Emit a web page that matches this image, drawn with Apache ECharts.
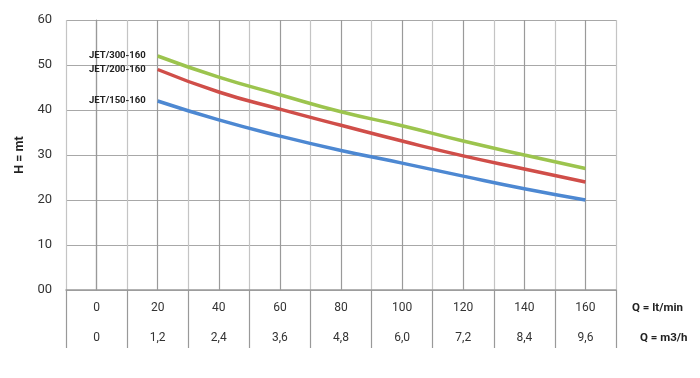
<!DOCTYPE html>
<html>
<head>
<meta charset="utf-8">
<script src="https://cdn.jsdelivr.net/npm/echarts@6/dist/echarts.min.js"></script>
<style>html,body{margin:0;padding:0;background:#fff}#c{width:700px;height:378px}</style>
</head>
<body>
<div id="c"></div>
<script>
const flowLpmLabels = ['0','20','40','60','80','100','120','140','160'];
const flowM3hLabels = ['0','1,2','2,4','3,6','4,8','6,0','7,2','8,4','9,6'];
const curveFlow = [20, 40, 60, 80, 100, 120, 140, 160];
const seriesNames = ['JET/300-160', 'JET/200-160', 'JET/150-160'];
const jet300 = [52, 47.3, 43.4, 39.6, 36.5, 33.1, 30.0, 27.0];
const jet200 = [49, 44.0, 40.2, 36.6, 33.1, 29.8, 26.9, 24.0];
const jet150 = [42, 37.8, 34.2, 31.0, 28.2, 25.3, 22.5, 20.0];
const colors = ['#9cc44e', '#d04e49', '#4d88d2'];

const FONT = '"Roboto", "Liberation Sans", sans-serif';

function mk(name, vals, color) {
  return {
    name: name,
    type: 'line',
    xAxisIndex: 0,
    smooth: 0.5,
    symbol: 'circle',
    symbolSize: 0,
    showSymbol: true,
    lineStyle: { width: 3.5, color: color },
    itemStyle: { color: color },
    z: 5,
    data: vals.map((v, i) => i === 0
      ? { value: [curveFlow[i], v], label: { show: true, position: 'left', distance: 12, formatter: name, fontSize: 9.5, fontWeight: 'bold', color: '#222', fontFamily: FONT } }
      : [curveFlow[i], v])
  };
}

const chart = echarts.init(document.getElementById('c'));
chart.setOption({
  animation: false,
  textStyle: { fontFamily: FONT },
  grid: { left: 66, right: 84, top: 20, bottom: 88 },
  xAxis: [
    {
      type: 'value', min: -10, max: 170, interval: 10,
      axisLine: { show: true, lineStyle: { color: '#999', width: 1.5 } },
      axisTick: { show: false }, axisLabel: { show: false },
      splitLine: { show: true, lineStyle: { color: ['#c4c4c4', '#9a9a9a'], width: 1.2 } }
    },
    {
      type: 'category', data: flowLpmLabels, boundaryGap: true, position: 'bottom', offset: 0,
      axisLine: { show: false },
      axisTick: { show: true, length: 58, lineStyle: { color: '#999', width: 1.2 } },
      axisLabel: { show: false }
    },
    {
      type: 'category', data: flowLpmLabels, boundaryGap: true, position: 'bottom', offset: 18,
      axisLine: { show: false }, axisTick: { show: false },
      axisLabel: { margin: 0, verticalAlign: 'middle', fontSize: 12, color: '#333', fontFamily: FONT },
      name: 'Q = lt/min', nameLocation: 'end', nameGap: 16,
      nameTextStyle: { fontSize: 11.5, fontWeight: 'bold', color: '#222', verticalAlign: 'middle', fontFamily: FONT }
    },
    {
      type: 'category', data: flowM3hLabels, boundaryGap: true, position: 'bottom', offset: 48,
      axisLine: { show: false }, axisTick: { show: false },
      axisLabel: { margin: 0, verticalAlign: 'middle', fontSize: 12, color: '#333', fontFamily: FONT },
      name: 'Q = m3/h', nameLocation: 'end', nameGap: 24,
      nameTextStyle: { fontSize: 11.5, fontWeight: 'bold', color: '#222', verticalAlign: 'middle', fontFamily: FONT }
    }
  ],
  yAxis: {
    type: 'value', min: 0, max: 60, interval: 10,
    axisLine: { show: true, lineStyle: { color: '#999', width: 1.2 } },
    axisTick: { show: false },
    axisLabel: { margin: 14, fontSize: 13, color: '#333', fontFamily: FONT, formatter: v => v === 0 ? '00' : String(v) },
    splitLine: { show: true, lineStyle: { color: '#a8a8a8', width: 1.2 } },
    name: 'H = mt', nameLocation: 'middle', nameGap: 38, nameRotate: 90,
    nameTextStyle: { fontSize: 12.5, fontWeight: 'bold', color: '#222', fontFamily: FONT }
  },
  series: [
    mk(seriesNames[0], jet300, colors[0]),
    mk(seriesNames[1], jet200, colors[1]),
    mk(seriesNames[2], jet150, colors[2])
  ]
});
</script>
</body>
</html>
